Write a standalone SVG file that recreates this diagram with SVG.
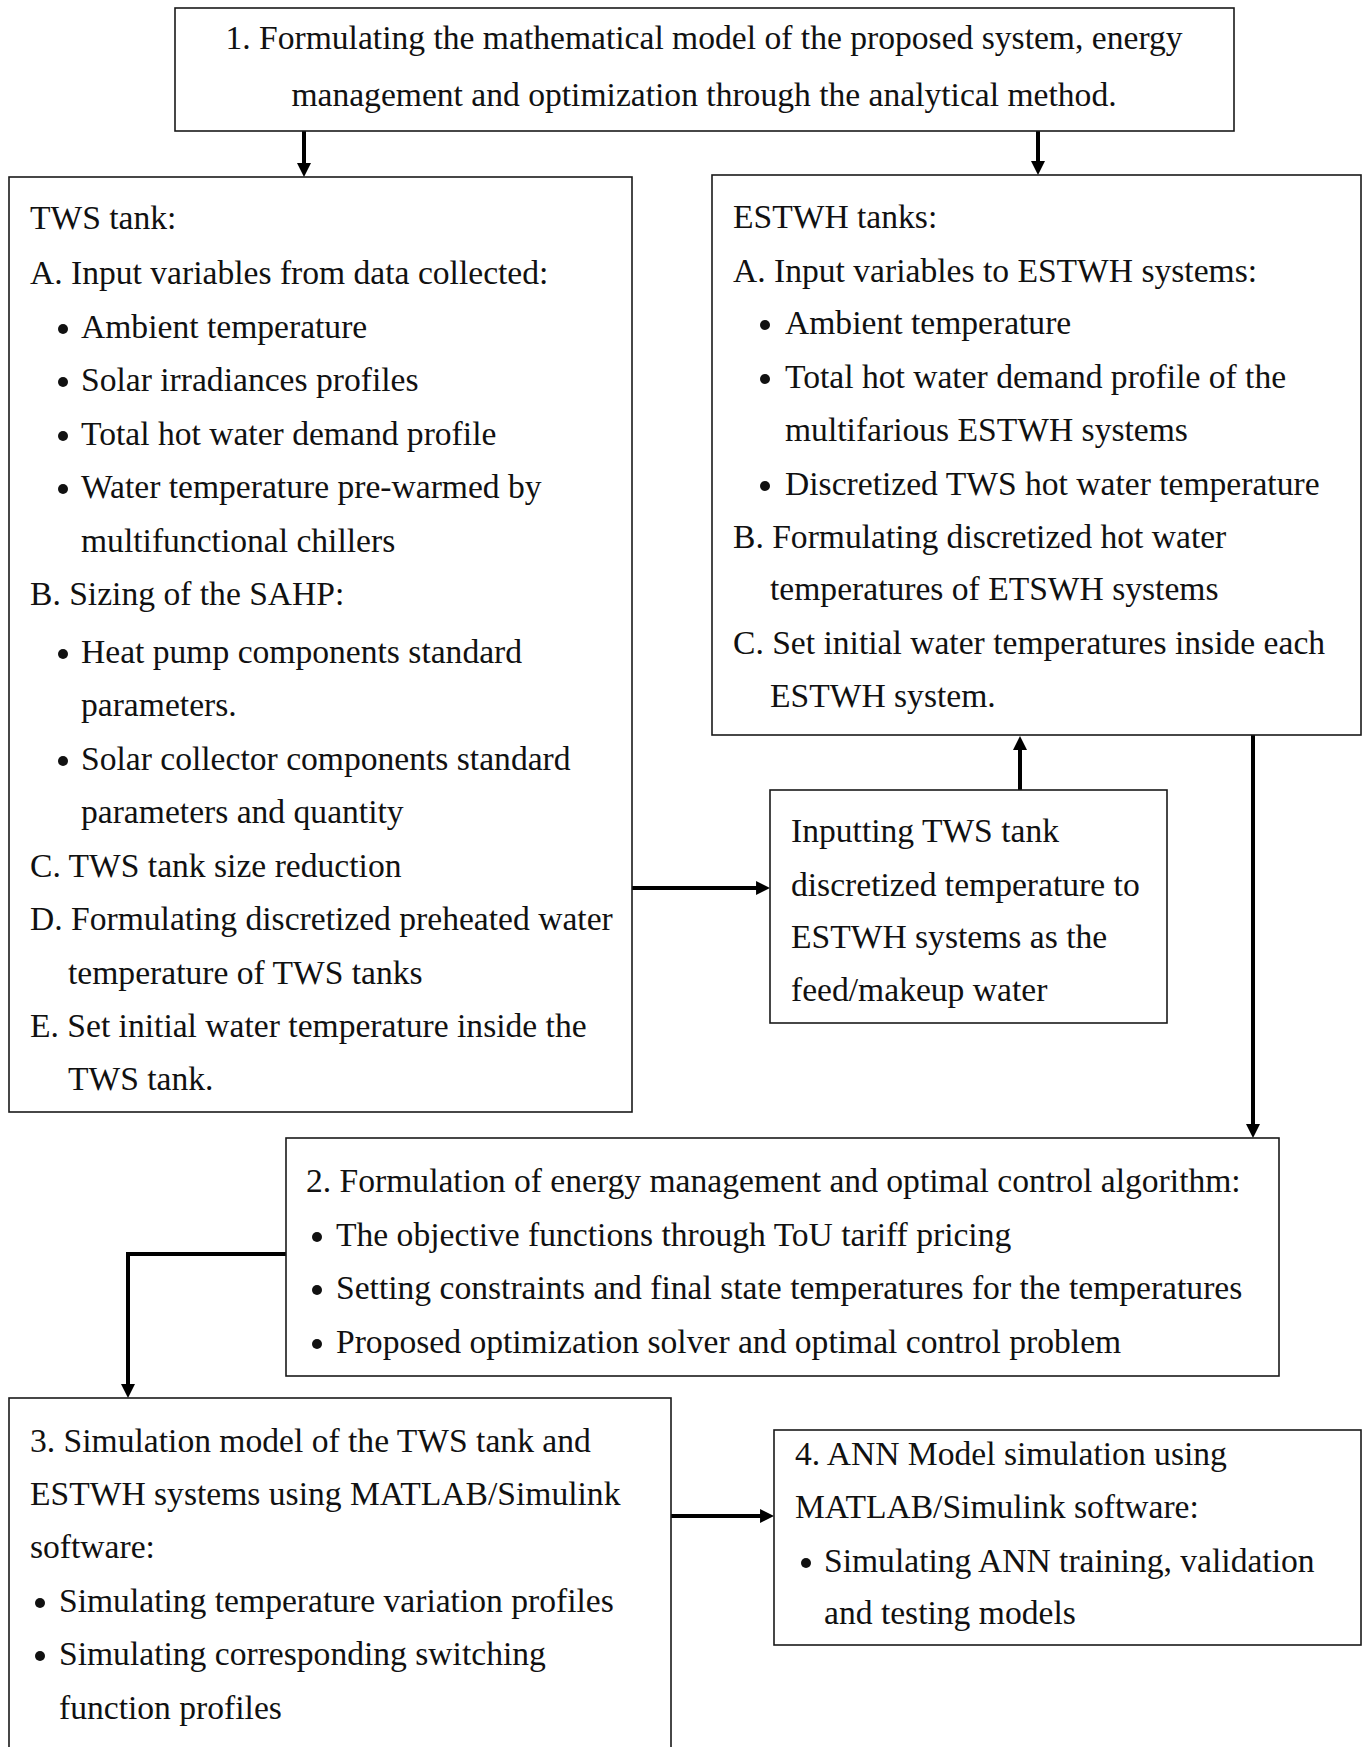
<svg xmlns="http://www.w3.org/2000/svg" width="1368" height="1747" viewBox="0 0 1368 1747">
<defs>
<style>
.box{fill:#fff;stroke:#1a1a1a;stroke-width:1.6}
.t{font-family:"Liberation Serif",serif;font-size:33.6px;fill:#111}
.c{text-anchor:middle}
.b{fill:#111}
.con{fill:none;stroke:#000;stroke-width:4}
</style>
<marker id="ah" viewBox="0 0 10 10" refX="6.4" refY="5" markerWidth="3.5" markerHeight="4" markerUnits="strokeWidth" orient="auto">
<path d="M0,0 L10,5 L0,10 Z" fill="#000"/>
</marker>
</defs>
<rect width="1368" height="1747" fill="#fff"/>

<g id="connectors">
<line class="con" x1="304" y1="131" x2="304" y2="172" marker-end="url(#ah)"/>
<line class="con" x1="1038" y1="131" x2="1038" y2="170" marker-end="url(#ah)"/>
<line class="con" x1="632" y1="888" x2="765" y2="888" marker-end="url(#ah)"/>
<line class="con" x1="1020" y1="790" x2="1020" y2="741" marker-end="url(#ah)"/>
<line class="con" x1="1253" y1="735" x2="1253" y2="1133" marker-end="url(#ah)"/>
<polyline class="con" points="286,1254 128,1254 128,1393" marker-end="url(#ah)"/>
<line class="con" x1="671" y1="1516" x2="769" y2="1516" marker-end="url(#ah)"/>
</g>

<g id="node1">
<rect class="box" x="175" y="8" width="1059" height="123"/>
<text class="t c" x="704" y="49">1. Formulating the mathematical model of the proposed system, energy</text>
<text class="t c" x="704" y="106">management and optimization through the analytical method.</text>
</g>

<g id="tws">
<rect class="box" x="9" y="177" width="623" height="935"/>
<text class="t" x="30" y="229">TWS tank:</text>
<text class="t" x="30" y="284">A. Input variables from data collected:</text>
<circle class="b" cx="63" cy="329" r="5"/>
<text class="t" x="81" y="338">Ambient temperature</text>
<circle class="b" cx="63" cy="382" r="5"/>
<text class="t" x="81" y="391">Solar irradiances profiles</text>
<circle class="b" cx="63" cy="436" r="5"/>
<text class="t" x="81" y="445">Total hot water demand profile</text>
<circle class="b" cx="63" cy="489" r="5"/>
<text class="t" x="81" y="498">Water temperature pre-warmed by</text>
<text class="t" x="81" y="552">multifunctional chillers</text>
<text class="t" x="30" y="605">B. Sizing of the SAHP:</text>
<circle class="b" cx="63" cy="654" r="5"/>
<text class="t" x="81" y="663">Heat pump components standard</text>
<text class="t" x="81" y="716">parameters.</text>
<circle class="b" cx="63" cy="761" r="5"/>
<text class="t" x="81" y="770">Solar collector components standard</text>
<text class="t" x="81" y="823">parameters and quantity</text>
<text class="t" x="30" y="877">C. TWS tank size reduction</text>
<text class="t" x="30" y="930">D. Formulating discretized preheated water</text>
<text class="t" x="68" y="984">temperature of TWS tanks</text>
<text class="t" x="30" y="1037">E. Set initial water temperature inside the</text>
<text class="t" x="68" y="1090">TWS tank.</text>
</g>

<g id="estwh">
<rect class="box" x="712" y="175" width="649" height="560"/>
<text class="t" x="733" y="228">ESTWH tanks:</text>
<text class="t" x="733" y="282">A. Input variables to ESTWH systems:</text>
<circle class="b" cx="765" cy="325" r="5"/>
<text class="t" x="785" y="334">Ambient temperature</text>
<circle class="b" cx="765" cy="379" r="5"/>
<text class="t" x="785" y="388">Total hot water demand profile of the</text>
<text class="t" x="785" y="441">multifarious ESTWH systems</text>
<circle class="b" cx="765" cy="486" r="5"/>
<text class="t" x="785" y="495">Discretized TWS hot water temperature</text>
<text class="t" x="733" y="548">B. Formulating discretized hot water</text>
<text class="t" x="770" y="600">temperatures of ETSWH systems</text>
<text class="t" x="733" y="654">C. Set initial water temperatures inside each</text>
<text class="t" x="770" y="707">ESTWH system.</text>
</g>

<g id="inputting">
<rect class="box" x="770" y="790" width="397" height="233"/>
<text class="t" x="791" y="842">Inputting TWS tank</text>
<text class="t" x="791" y="896">discretized temperature to</text>
<text class="t" x="791" y="948">ESTWH systems as the</text>
<text class="t" x="791" y="1001">feed/makeup water</text>
</g>

<g id="node2">
<rect class="box" x="286" y="1138" width="993" height="238"/>
<text class="t" x="306" y="1192">2. Formulation of energy management and optimal control algorithm:</text>
<circle class="b" cx="317" cy="1237" r="5"/>
<text class="t" x="336" y="1246">The objective functions through ToU tariff pricing</text>
<circle class="b" cx="317" cy="1290" r="5"/>
<text class="t" x="336" y="1299">Setting constraints and final state temperatures for the temperatures</text>
<circle class="b" cx="317" cy="1344" r="5"/>
<text class="t" x="336" y="1353">Proposed optimization solver and optimal control problem</text>
</g>

<g id="node3">
<rect class="box" x="9" y="1398" width="662" height="360"/>
<text class="t" x="30" y="1452">3. Simulation model of the TWS tank and</text>
<text class="t" x="30" y="1505">ESTWH systems using MATLAB/Simulink</text>
<text class="t" x="30" y="1558">software:</text>
<circle class="b" cx="40" cy="1603" r="5"/>
<text class="t" x="59" y="1612">Simulating temperature variation profiles</text>
<circle class="b" cx="40" cy="1656" r="5"/>
<text class="t" x="59" y="1665">Simulating corresponding switching</text>
<text class="t" x="59" y="1719">function profiles</text>
</g>

<g id="node4">
<rect class="box" x="774" y="1430" width="587" height="215"/>
<text class="t" x="795" y="1465">4. ANN Model simulation using</text>
<text class="t" x="795" y="1518">MATLAB/Simulink software:</text>
<circle class="b" cx="806" cy="1563" r="5"/>
<text class="t" x="824" y="1572">Simulating ANN training, validation</text>
<text class="t" x="824" y="1624">and testing models</text>
</g>
</svg>
